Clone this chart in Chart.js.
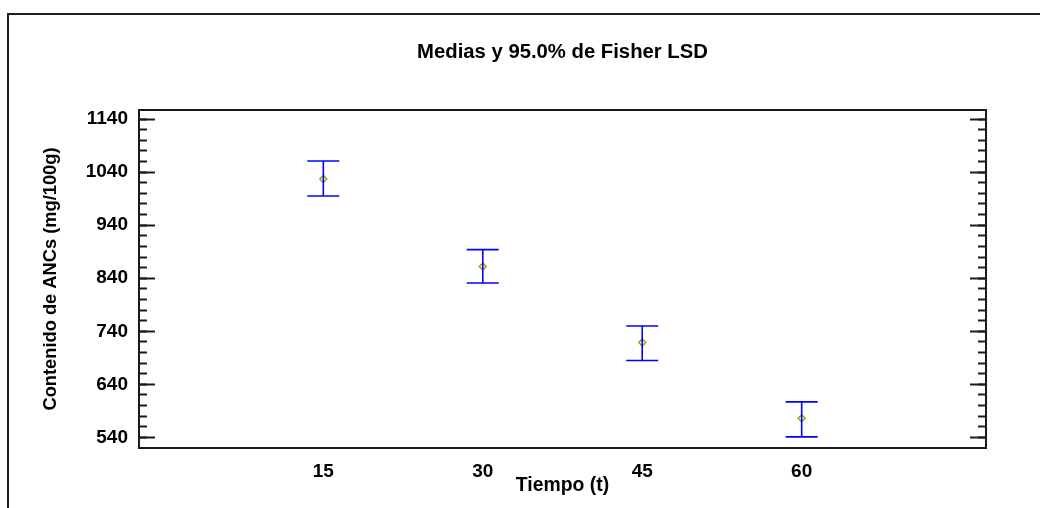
<!DOCTYPE html>
<html><head><meta charset="utf-8">
<script src="https://cdn.jsdelivr.net/npm/chart.js@4/dist/chart.umd.min.js"></script>
<style>
html,body{margin:0;padding:0;background:#fff;overflow:hidden;}
#wrap{position:relative;width:1040px;height:508px;}
#frame{position:absolute;left:7px;top:13px;width:1100px;height:600px;border-left:2px solid #1e1e1e;border-top:2px solid #1e1e1e;pointer-events:none;}
canvas{position:absolute;left:0;top:0;}
</style></head><body>
<div id="wrap"><canvas id="c" width="1040" height="508"></canvas><div id="frame"></div></div>
<script>
// ---- data ----
const categories = [15, 30, 45, 60];
const means = [1027, 862, 719, 576];
const lower = [995, 831, 685, 541];
const upper = [1061, 894, 750, 607];
const yMajorTicks = [540, 640, 740, 840, 940, 1040, 1140];
const yMinorStep = 20;
const titleText = 'Medias y 95.0% de Fisher LSD';
const xTitle = 'Tiempo (t)';
const yTitle = 'Contenido de ANCs (mg/100g)';

const yMinorTicks = [];
for (let v = yMajorTicks[0]; v <= yMajorTicks[yMajorTicks.length - 1]; v += yMinorStep) yMinorTicks.push(v);

const FAM = "'Liberation Sans', Arial, Helvetica, sans-serif";
const YMIN = 520, YMAX = 1157, XMIN = -2.34, XMAX = 77.34;
const AX = '#1a1a1a';

const errDatasets = categories.map((c, i) => ({
  type: 'line',
  data: [{x: c, y: lower[i]}, {x: c, y: upper[i]}],
  borderColor: '#0000ff',
  borderWidth: 1.6,
  pointStyle: 'line',
  pointRadius: 16,
  pointHoverRadius: 16,
  pointBorderColor: '#0000ff',
  pointBorderWidth: 1.6,
  fill: false,
  xAxisID: 'x', yAxisID: 'y'
}));

const meanDataset = {
  type: 'scatter',
  data: categories.map((c, i) => ({x: c, y: means[i]})),
  pointStyle: 'rectRot',
  pointRadius: 3.5,
  pointHoverRadius: 3.5,
  borderColor: '#a0a000',
  backgroundColor: 'rgba(0,0,0,0)',
  borderWidth: 1.5,
  xAxisID: 'x', yAxisID: 'y'
};

function sideAxis(position, len, ticksArr, showBorder, weight) {
  return {
    type: 'linear', position, min: YMIN, max: YMAX, weight,
    grid: {display: true, drawOnChartArea: false, drawTicks: true, tickLength: -len, color: AX, tickWidth: 2},
    border: {display: showBorder, color: AX, width: 2},
    ticks: {display: false},
    afterBuildTicks: s => { s.ticks = ticksArr.map(v => ({value: v})); },
    afterFit: s => { s.width = 0; }
  };
}

new Chart(document.getElementById('c'), {
  type: 'scatter',
  data: {datasets: [...errDatasets, meanDataset]},
  options: {
    responsive: false, animation: false, devicePixelRatio: 1,
    layout: {padding: {left: 10, right: 54, top: 0, bottom: 0}},
    plugins: {
      legend: {display: false},
      tooltip: {enabled: false},
      title: {display: true, text: titleText, color: '#000', fullSize: false,
        font: {family: FAM, size: 20.3, weight: 'bold'}, padding: {top: 40.3, bottom: 45.4}}
    },
    scales: {
      x: {
        type: 'linear', position: 'bottom', min: XMIN, max: XMAX,
        grid: {display: false},
        border: {display: true, color: AX, width: 2},
        ticks: {color: '#000', padding: 4, font: {family: FAM, size: 19, weight: 'bold'}, callback: v => String(v)},
        afterBuildTicks: s => { s.ticks = categories.map(v => ({value: v})); },
        title: {display: true, text: xTitle, color: '#000', font: {family: FAM, size: 19.4, weight: 'bold'}, padding: {top: 0, bottom: 10.5}},
        afterFit: s => { s.height = 60; }
      },
      xTop: {
        type: 'linear', position: 'top', min: XMIN, max: XMAX,
        grid: {display: false},
        border: {display: true, color: AX, width: 2},
        ticks: {display: false},
        afterFit: s => { s.height = 0; }
      },
      y: {
        type: 'linear', position: 'left', min: YMIN, max: YMAX, weight: 1,
        grid: {display: true, drawOnChartArea: false, drawTicks: true, tickLength: -16, color: AX, tickWidth: 2},
        border: {display: true, color: AX, width: 2},
        ticks: {color: '#000', padding: 27, font: {family: FAM, size: 19, weight: 'bold'}, callback: v => String(v)},
        afterBuildTicks: s => { s.ticks = yMajorTicks.map(v => ({value: v})); },
        title: {display: true, text: yTitle, color: '#000', font: {family: FAM, size: 18.3, weight: 'bold'}, padding: {top: 29.5, bottom: 0}},
        afterFit: s => { s.width = 129; }
      },
      yMinor: sideAxis('left', 8, yMinorTicks, false, 0),
      yR: sideAxis('right', 16, yMajorTicks, true, 0),
      yRMinor: sideAxis('right', 8, yMinorTicks, false, 1)
    }
  }
});
</script>
</body></html>
